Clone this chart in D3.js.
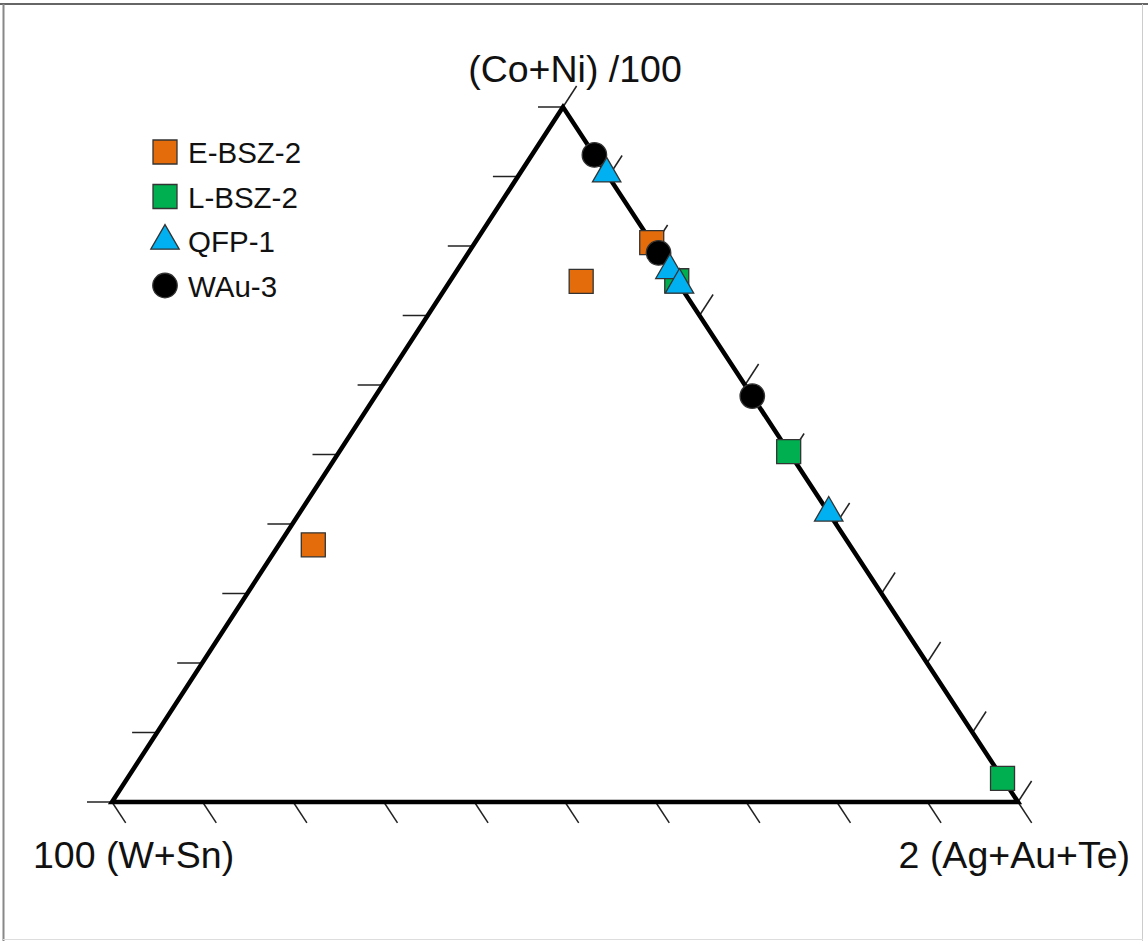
<!DOCTYPE html>
<html>
<head>
<meta charset="utf-8">
<script src="https://cdn.jsdelivr.net/npm/d3@7"></script>
<style>
  body { margin: 0; background: #fff; }
  svg { display: block; }
  text { font-family: "Liberation Sans", Arial, sans-serif; fill: #111; }
</style>
</head>
<body>
<script>
// ternary data, percent of [ (Co+Ni)/100 , 100(W+Sn) , 2(Ag+Au+Te) ]
var seriesNames = ["E-BSZ-2", "L-BSZ-2", "WAu-3", "QFP-1"];
var eBsz2 = [[80.5, 0, 19.5], [74.9, 10.6, 14.5], [37.0, 59.2, 3.8]];
var lBsz2 = [[75.0, 0, 25.0], [50.4, 0, 49.6], [3.4, 0, 96.6]];
var wAu3  = [[93.1, 0, 6.9], [79.0, 0, 21.0], [58.4, 0, 41.6]];
var qfp1  = [[90.4, 0, 9.6], [76.5, 0, 23.5], [74.4, 0, 25.6], [41.6, 0, 58.4]];
var legendOrder = ["E-BSZ-2", "L-BSZ-2", "QFP-1", "WAu-3"];
var apexLabels = ["(Co+Ni) /100", "100 (W+Sn)", "2 (Ag+Au+Te)"];
var tickValues = d3.range(0, 101, 10);

var width = 1148, height = 941;

var svg = d3.select("body").append("svg")
    .attr("width", width)
    .attr("height", height);

// frame round the picture
svg.append("line").attr("x1", 0).attr("x2", width).attr("y1", 4).attr("y2", 4)
    .attr("stroke", "#333").attr("stroke-width", 1.5);
svg.append("line").attr("x1", 3.5).attr("x2", 3.5).attr("y1", 4).attr("y2", height)
    .attr("stroke", "#888").attr("stroke-width", 2);
svg.append("line").attr("x1", 1142.5).attr("x2", 1142.5).attr("y1", 4).attr("y2", height)
    .attr("stroke", "#ccc").attr("stroke-width", 1);
svg.append("line").attr("x1", 3).attr("x2", 1143).attr("y1", 939.5).attr("y2", 939.5)
    .attr("stroke", "#ddd").attr("stroke-width", 1);

// triangle corners: top, bottom-left, bottom-right
var A = [563, 107], B = [112, 802], C = [1018, 802];

function project(d) {
    var s = d[0] + d[1] + d[2];
    return [
        (d[0] * A[0] + d[1] * B[0] + d[2] * C[0]) / s,
        (d[0] * A[1] + d[1] * B[1] + d[2] * C[1]) / s
    ];
}

// scales along each edge (0..100)
var leftEdge = d3.scaleLinear().domain([0, 100]).range([B, A]);
var rightEdge = d3.scaleLinear().domain([0, 100]).range([A, C]);
var bottomEdge = d3.scaleLinear().domain([0, 100]).range([B, C]);

var tickLen = 25;
function unit(p, q) {
    var dx = q[0] - p[0], dy = q[1] - p[1], L = Math.sqrt(dx * dx + dy * dy);
    return [dx / L, dy / L];
}
var leftDir = [-1, 0];              // horizontal, to the left
var rightDir = unit(B, A);          // parallel to left side, up-right
var bottomDir = unit(A, C);         // parallel to right side, down-right

var ticks = svg.append("g").attr("class", "ticks")
    .attr("stroke", "#222").attr("stroke-width", 1.5);

function drawTicks(scale, dir) {
    ticks.selectAll(null)
        .data(tickValues)
        .enter().append("line")
        .attr("x1", function(d) { return scale(d)[0]; })
        .attr("y1", function(d) { return scale(d)[1]; })
        .attr("x2", function(d) { return scale(d)[0] + dir[0] * tickLen; })
        .attr("y2", function(d) { return scale(d)[1] + dir[1] * tickLen; });
}
drawTicks(leftEdge, leftDir);
drawTicks(rightEdge, rightDir);
drawTicks(bottomEdge, bottomDir);

// triangle outline
svg.append("path")
    .attr("d", "M" + A + "L" + B + "L" + C + "Z")
    .attr("fill", "none")
    .attr("stroke", "#000")
    .attr("stroke-width", 4.5)
    .attr("stroke-linejoin", "miter");

// apex labels
svg.append("text").attr("x", 575).attr("y", 82)
    .attr("text-anchor", "middle").attr("font-size", 37.5).text(apexLabels[0]);
svg.append("text").attr("x", 33).attr("y", 868)
    .attr("font-size", 37.5).text(apexLabels[1]);
svg.append("text").attr("x", 1130).attr("y", 868)
    .attr("text-anchor", "end").attr("font-size", 37.5).text(apexLabels[2]);

// marker styles
var styles = {
    "E-BSZ-2": {shape: d3.symbolSquare, size: 576, fill: "#E46C0A"},
    "L-BSZ-2": {shape: d3.symbolSquare, size: 576, fill: "#00B050"},
    "QFP-1":   {shape: d3.symbolTriangle, size: 350, fill: "#00B0F0"},
    "WAu-3":   {shape: d3.symbolCircle, size: 470, fill: "#000"}
};
var seriesData = {"E-BSZ-2": eBsz2, "L-BSZ-2": lBsz2, "WAu-3": wAu3, "QFP-1": qfp1};

var points = svg.append("g").attr("class", "points");
seriesNames.forEach(function(name) {
    var st = styles[name];
    points.selectAll(null)
        .data(seriesData[name])
        .enter().append("path")
        .attr("d", d3.symbol().type(st.shape).size(st.size))
        .attr("transform", function(d) { return "translate(" + project(d) + ")"; })
        .attr("fill", st.fill)
        .attr("stroke", "#333")
        .attr("stroke-width", 1.3);
});

// legend
var legend = svg.append("g").attr("class", "legend")
    .selectAll("g")
    .data(legendOrder)
    .enter().append("g")
    .attr("transform", function(d, i) { return "translate(0," + (163 + i * 44.5) + ")"; });

legend.append("path")
    .attr("d", function(d) { return d3.symbol().type(styles[d].shape).size(styles[d].size)(); })
    .attr("transform", "translate(165,-11)")
    .attr("fill", function(d) { return styles[d].fill; })
    .attr("stroke", "#333")
    .attr("stroke-width", 1.3);

legend.append("text")
    .attr("x", 188)
    .attr("y", 0)
    .attr("font-size", 29.5)
    .text(function(d) { return d; });
</script>
</body>
</html>
